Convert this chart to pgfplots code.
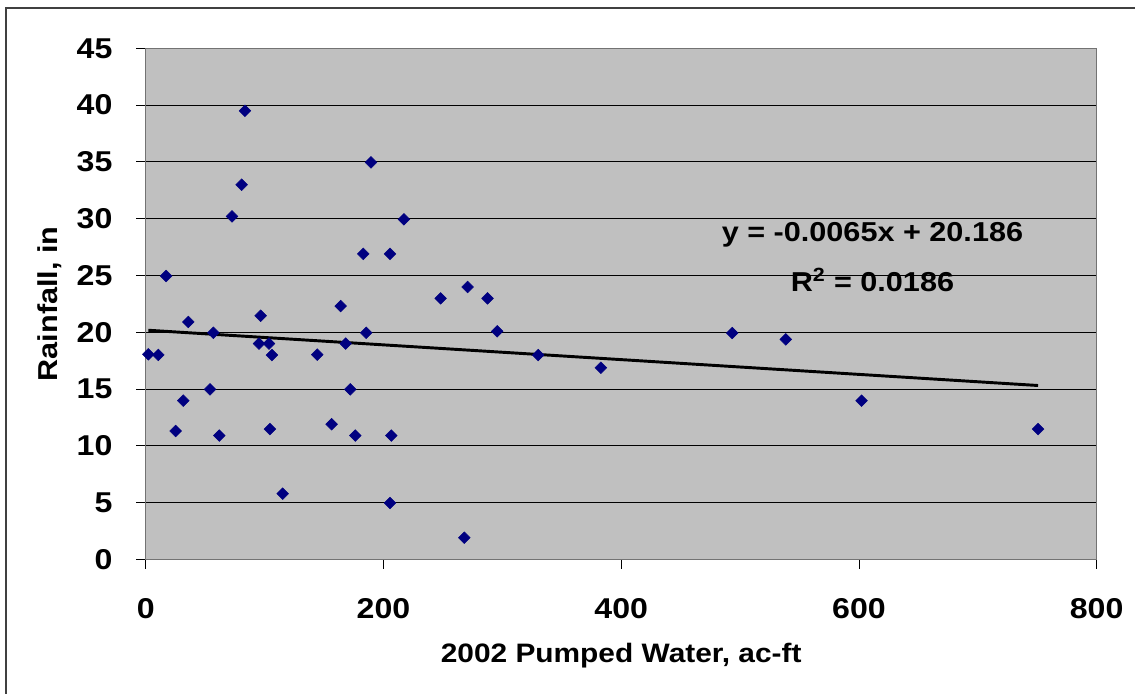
\documentclass[border=0pt]{standalone}
\usepackage{fontspec}
\setmainfont{Liberation Sans}[FakeStretch=1.12]
\usepackage{pgfplots}
\pgfplotsset{compat=1.18}
\definecolor{plotgray}{HTML}{C0C0C0}
\definecolor{navy}{HTML}{000080}
\begin{document}
\begin{tikzpicture}
\useasboundingbox (-109.3pt,-101pt) rectangle (742pt,419.5pt);
\draw[line width=0.9pt, black!75] (-104.8pt,-105pt) -- (-104.8pt,413.5pt) -- (750pt,413.5pt);
\begin{axis}[
  at={(0pt,0pt)}, anchor=south west,
  scale only axis,
  width=713.25pt, height=383.25pt,
  xmin=0, xmax=800, ymin=0, ymax=45,
  xtick={0,200,400,600,800},
  ytick={0,5,10,15,20,25,30,35,40,45},
  tick align=outside,
  major tick length=7pt,
  xtick pos=bottom, ytick pos=left,
  tick style={black, line width=0.6pt},
  axis background/.style={fill=plotgray},
  axis line style={black!55, line width=0.8pt},
  ymajorgrids,
  grid style={black, line width=0.6pt},
  /pgf/number format/assume math mode=true,
  ticklabel style={font=\fontsize{21.5pt}{25pt}\selectfont\bfseries, inner sep=0pt},
  yticklabel style={anchor=east, xshift=-17.8pt},
  xticklabel style={anchor=north, yshift=-22pt},
  xlabel={2002 Pumped Water, ac-ft},
  ylabel={Rainfall, in},
  xlabel style={at={(axis description cs:0.5,-0.1880)}, anchor=center, font=\fontsize{20pt}{24pt}\selectfont\bfseries},
  ylabel style={at={(axis description cs:-0.1010,0.5)}, anchor=center, rotate=0, font=\fontsize{20.5pt}{24pt}\selectfont\bfseries},
  clip=false,
]
\addplot[only marks, mark=square*, mark size=3.1pt, mark options={rotate=45, fill=navy, draw=navy}] coordinates {
(2.2,18.05) (10.6,18.0) (17.1,24.95) (25.2,11.3) (31.6,13.97) (35.8,20.9)
(54.1,14.97) (56.9,19.95) (61.9,10.9) (72.6,30.2) (80.7,32.99) (83.5,39.5)
(95.3,19.0) (96.7,21.45) (103.7,19.0) (104.5,11.47) (106.2,17.99) (115.2,5.78)
(144.3,18.02) (156.4,11.9) (164.0,22.3) (168.2,19.0) (172.1,14.97) (176.3,10.9)
(183.0,26.9) (185.5,19.95) (189.5,34.96) (205.5,4.96) (205.5,26.9) (206.6,10.9)
(217.2,29.94) (248.1,22.98) (268.0,1.9) (270.8,23.98) (287.6,22.98) (295.7,20.08)
(330.2,17.99) (382.9,16.87) (493.4,19.93) (538.5,19.37) (602.2,13.97) (750.7,11.47)
};
\addplot[black, line width=2.2pt] coordinates {(2.2,20.172) (750.7,15.306)};
\node[font=\fontsize{20.5pt}{24pt}\selectfont\bfseries, inner sep=0pt] at (axis cs:611.4,28.56) {y = -0.0065x + 20.186};
\node[font=\fontsize{20.5pt}{24pt}\selectfont\bfseries, inner sep=0pt] at (axis cs:611.4,24.6) {R\textsuperscript{2} = 0.0186};
\end{axis}
\end{tikzpicture}
\end{document}
